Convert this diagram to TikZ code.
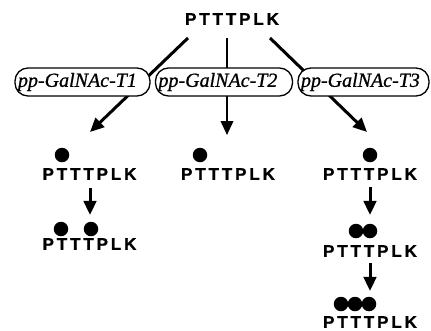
\documentclass[tikz,border=0pt]{standalone}
\usepackage{fontspec}
\usetikzlibrary{arrows.meta,backgrounds}
\newfontfamily\seqfont[LetterSpace=17,FakeBold=1.2]{Liberation Sans}
\newfontfamily\enzfont[FakeBold=0.8]{Liberation Serif}
\tikzset{
  seq/.style={font={\seqfont\bfseries\fontsize{17}{17}\selectfont}, inner sep=0pt},
  glc/.style={circle, fill=black, inner sep=0pt, minimum size=14.5pt},
  enz/.style={draw, line width=1.3pt, fill=white, rounded corners=13pt,
    minimum height=28pt, inner xsep=3pt, align=left,
    font={\enzfont\itshape\fontsize{20}{20}\selectfont}},
  arr/.style={line width=3pt, -{Triangle[length=14pt,width=12.5pt]}},
  thinarr/.style={arr, line width=2.2pt}
}
\begin{document}
\begin{tikzpicture}[x=1pt,y=-1pt]
\useasboundingbox (0,0) rectangle (431,330);

% peptide substrate
\node[seq] (top) at (232,19) {PTTTPLK};

% the three transferases
\node[enz, minimum width=135pt, text width=129pt] (t1) at (82.5,82) {pp-GalNAc-T1};
\node[enz, minimum width=137pt, text width=131pt] (t2) at (224,82) {pp-GalNAc-T2};
\node[enz, minimum width=131pt, text width=125pt] (t3) at (363.5,82) {pp-GalNAc-T3};

% products, first row
\node[seq] (r1a) at (89.5,174) {PTTTPLK};
\node[seq] (r1b) at (228,174) {PTTTPLK};
\node[seq] (r1c) at (370,174) {PTTTPLK};
\node[glc] (g1a) at (62,155) {};
\node[glc] (g1b) at (200,155) {};
\node[glc] (g1c) at (370,155) {};

% T1: second step
\node[seq] (r2a) at (89.5,244) {PTTTPLK};
\node[glc] (g2a1) at (61,229) {};
\node[glc] (g2a2) at (91,229) {};

% T3: second and third steps
\node[seq] (r2c) at (370,251) {PTTTPLK};
\node[glc] (g2c1) at (356,231) {};
\node[glc] (g2c2) at (370,231) {};
\node[seq] (r3c) at (370,322) {PTTTPLK};
\node[glc] (g3c1) at (341,304) {};
\node[glc] (g3c2) at (355,304) {};
\node[glc] (g3c3) at (369,304) {};

% ends of the branching arrows
\coordinate (s1) at (188,38);
\coordinate (s2) at (227,38);
\coordinate (s3) at (270,38);
\coordinate (e1) at (90,132);
\coordinate (e2) at (227,135);
\coordinate (e3) at (367,132);

\begin{pgfonlayer}{background}
  \draw[arr] (s1) -- (e1);
  \draw[thinarr] (s2) -- (e2);
  \draw[arr] (s3) -- (e3);
\end{pgfonlayer}

% successive glycosylation steps
\draw[arr] ([xshift=0.5pt,yshift=-8pt]r1a.south) -- ([xshift=0.5pt,yshift=23pt]r2a.north);
\draw[arr] ([yshift=-7pt]r1c.south) -- ([yshift=30pt]r2c.north);
\draw[arr] ([yshift=-6pt]r2c.south) -- ([yshift=25pt]r3c.north);
\end{tikzpicture}
\end{document}
